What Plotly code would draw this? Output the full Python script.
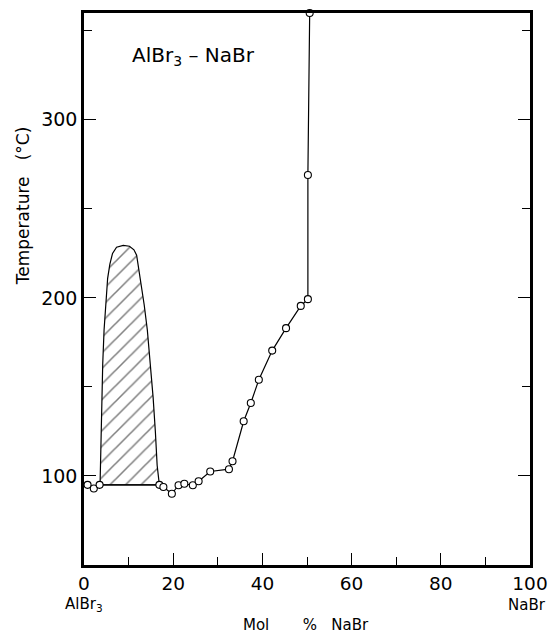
import plotly.graph_objects as go

# liquidus / thermal-arrest points (mol % NaBr, deg C)
mol_pct = [0.8, 2.2, 3.5, 16.9, 17.8, 19.7, 21.2, 22.5, 24.4, 25.7, 28.3,
           32.5, 33.3, 35.8, 37.4, 39.2, 42.2, 45.3, 48.6, 50.2, 50.2, 50.6]
temp_c = [95, 93, 95, 95, 93.8, 90, 94.8, 95.6, 94.8, 97, 102.5,
          103.8, 108.3, 130.7, 141, 154, 170.4, 183, 195.5, 199.3, 269, 360]

# outline of the hatched two-liquid region
gap_x = [3.6, 3.7, 3.9, 4.2, 4.5, 4.9, 5.3, 5.8, 6.4, 7.3, 8.8, 10.2, 11.2,
         11.8, 12.7, 13.5, 14.2, 14.9, 15.5, 16.0, 16.4, 16.9, 3.6]
gap_y = [95, 106, 135, 163, 182, 200, 211, 219, 225, 228.5, 229.5, 229, 227,
         224, 210, 196, 182, 163, 144, 125, 106, 95, 95]

x_ticks = [0, 20, 40, 60, 80, 100]
x_labels = ["0", "20", "40", "60", "80", "100"]
y_ticks = [100, 200, 300]
y_labels = ["100", "200", "300"]

font = "DejaVu Sans"

fig = go.Figure()

fig.add_trace(go.Scatter(
    x=gap_x, y=gap_y, mode="lines", fill="toself",
    fillcolor="white",
    fillpattern=dict(shape="/", size=11, solidity=0.14,
                     fgcolor="black", bgcolor="white"),
    line=dict(color="black", width=1.2),
    hoverinfo="skip", showlegend=False))

fig.add_trace(go.Scatter(
    x=mol_pct, y=temp_c, mode="lines+markers",
    line=dict(color="black", width=1.2),
    marker=dict(symbol="circle", size=7, color="white",
                line=dict(color="black", width=1.1)),
    cliponaxis=False, showlegend=False))

fig.update_xaxes(
    range=[0, 100], tickvals=x_ticks, ticktext=x_labels,
    ticks="inside", ticklen=12, tickwidth=1.2, tickcolor="black",
    minor=dict(dtick=10, tick0=0, ticks="inside", ticklen=8,
               tickwidth=1.2, tickcolor="black"),
    showline=True, linecolor="black", linewidth=2.5, mirror=True,
    showgrid=False, zeroline=False, automargin=False,
    ticklabeloverflow="allow",
    tickfont=dict(family=font, size=18.5, color="black"))

fig.update_yaxes(
    range=[50, 360], tickvals=y_ticks, ticktext=y_labels,
    ticks="inside", ticklen=12, tickwidth=1.2, tickcolor="black",
    minor=dict(dtick=50, tick0=0, ticks="inside", ticklen=8,
               tickwidth=1.2, tickcolor="black"),
    showline=True, linecolor="black", linewidth=2.5, mirror="allticks",
    showgrid=False, zeroline=False, automargin=False,
    tickfont=dict(family=font, size=19, color="black"))

fig.update_layout(
    width=548, height=633,
    margin=dict(l=84, r=18, t=13, b=68),
    plot_bgcolor="white", paper_bgcolor="white",
    annotations=[
        dict(x=10.3, y=336, xref="x", yref="y", xanchor="left",
             text="AlBr<sub>3</sub> – NaBr", showarrow=False,
             font=dict(family=font, size=20, color="black")),
        dict(x=-0.137, y=252, xref="paper", yref="y", textangle=-90,
             xanchor="center", yanchor="middle",
             text="Temperature &nbsp;&nbsp;(°C)", showarrow=False,
             font=dict(family=font, size=17, color="black")),
        dict(x=0, y=-0.072, xref="x", yref="paper", yanchor="middle",
             text="AlBr<sub>3</sub>", showarrow=False,
             font=dict(family=font, size=15, color="black")),
        dict(x=99.3, y=-0.072, xref="x", yref="paper", yanchor="middle",
             text="NaBr", showarrow=False,
             font=dict(family=font, size=15, color="black")),
        dict(x=49.8, y=-0.108, xref="x", yref="paper", yanchor="middle",
             text="Mol&nbsp;&nbsp;&nbsp;&nbsp;&nbsp;&nbsp;&nbsp;%&nbsp;&nbsp;&nbsp;NaBr",
             showarrow=False,
             font=dict(family=font, size=15, color="black")),
    ])

# drop the page's default body margin so the figure fills the window exactly
fig.write_html(
    "out.html",
    config={"displayModeBar": False},
    post_script="document.body.style.margin='0';"
                "document.body.style.overflow='hidden';")
